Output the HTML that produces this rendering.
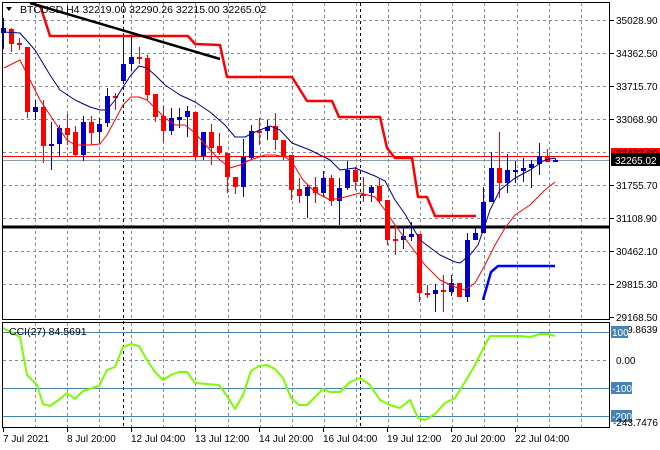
<!DOCTYPE html>
<html><head><meta charset="utf-8"><style>
html,body{margin:0;padding:0;background:#fff;width:660px;height:450px;overflow:hidden}
svg{display:block;font-family:"Liberation Sans",Tahoma,sans-serif}
</style></head><body>
<svg id="s" width="660" height="450" xmlns="http://www.w3.org/2000/svg">
<rect x="0" y="0" width="660" height="450" fill="#fff"/>
<g id="grid" stroke="#7f8a96" stroke-width="1" stroke-dasharray="3,3"></g>
<g id="ov"></g>
<g id="c"></g>
<g id="lines"></g>
<rect x="2.5" y="2.5" width="607" height="317" fill="none" stroke="#000"/>
<rect x="2.5" y="322.5" width="607" height="105" fill="none" stroke="#000"/>
<g id="ax" font-size="10.5" fill="#000"></g>
<text x="20" y="13" font-size="10.5" fill="#000">BTCUSD,H4  32219.00 32290.26 32215.00 32265.02</text>
<polygon points="6,7 12,7 9,11" fill="#000"/>
<text x="9" y="335" font-size="10.5" fill="#000">CCI(27) 84.5691</text>
</svg>
<script>
var NS="http://www.w3.org/2000/svg";
function el(p,t,a,txt){var e=document.createElementNS(NS,t);for(var k in a)e.setAttribute(k,a[k]);if(txt!==undefined)e.textContent=txt;document.getElementById(p).appendChild(e);return e;}
for(var x=35;x<=600;x+=32.1){var xx=Math.round(x)+0.5;el('grid','line',{x1:xx,y1:3,x2:xx,y2:319});el('grid','line',{x1:xx,y1:323,x2:xx,y2:427});}
[20,53,86,119,152,185,218,251,284].forEach(function(y){el('grid','line',{x1:3,y1:y+.5,x2:609,y2:y+.5});});
el('grid','line',{x1:3,y1:360.5,x2:609,y2:360.5});
[123,360].forEach(function(x){el('ov','line',{x1:x+.5,y1:3,x2:x+.5,y2:427,stroke:'#000','stroke-dasharray':'3,3'});});
[332,388,416].forEach(function(y){el('ov','line',{x1:3,y1:y+.5,x2:609,y2:y+.5,stroke:'#4682b4'});});
el('ov','line',{x1:3,y1:156.5,x2:609,y2:156.5,stroke:'#ff0000'});
el('ov','line',{x1:3,y1:160.5,x2:609,y2:160.5,stroke:'#8a99a6'});
el('ov','line',{x1:3,y1:227,x2:609,y2:227,stroke:'#000','stroke-width':3});
var C=[['b',28,33,18,49],['r',29,44,28,52],['r',43,45,38,50],['r',47,112,47,118],['b',107,112,100,120],['r',107,146,100,163],['b',144,146,122,170],['b',128,144,125,157],['r',128,135,114,145],['r',132,155,126,157],['b',122,155,116,161],['r',122,133,116,145],['b',124,132,118,143],['b',96,123,88,127],['r',96,98,93,110],['b',64,81,37,83],['b',57,64,37,71],['r',57,59,47,64],['r',58,95,55,100],['r',94,117,94,122],['r',116,131,106,142],['b',118,131,108,135],['b',117,120,108,128],['b',111,117,106,137],['r',112,156,112,160],['b',132,156,132,160],['r',132,148,124,165],['r',146,153,133,155],['r',153,177,153,193],['r',177,187,177,194],['b',157,187,139,197],['b',131,158,125,159],['r',131,133,118,145],['b',127,131,120,140],['r',126,140,113,150],['r',140,157,140,160],['r',155,190,155,200],['r',189,196,178,203],['b',187,196,184,218],['r',187,193,177,203],['b',178,193,171,196],['r',178,201,175,206],['b',188,201,178,225],['b',170,188,161,190],['r',170,182,167,190],['r',194,195,177,202],['b',187,193,185,202],['r',186,201,179,203],['r',200,240,200,245],['r',239,241,225,255],['b',236,240,226,249],['b',234,237,222,241],['r',234,293,234,302],['r',293,294,285,298],['b',290,294,284,312],['r',290,292,275,312],['b',283,292,275,296],['r',283,297,283,297],['b',240,297,233,302],['b',233,240,228,240],['b',202,233,187,233],['b',168,202,152,202],['r',168,183,132,198],['b',170,183,154,193],['b',170,171,161,183],['b',168,171,158,182],['b',164,168,160,188],['b',156,164,143,175],['r',156,162,149,162],['b',160,162,158,162]];
C.forEach(function(c,i){var x=3+8*i;var col=c[0]=='b'?'#0000c8':'#ff0000';
el('c','line',{x1:x+.5,y1:c[3],x2:x+.5,y2:c[4],stroke:col});
el('c','rect',{x:x-2,y:c[1],width:5,height:Math.max(2,c[2]-c[1]),fill:col});});
function pl(pts,col,w){el('lines','polyline',{points:pts.map(function(p){return p.join(',')}).join(' '),fill:'none',stroke:col,'stroke-width':w,'stroke-linejoin':'round'});}
pl([[4,32],[20,33],[35,50],[50,75],[60,90],[75,100],[90,107],[100,110],[107,110],[115,100],[123,87],[131,75],[139,66],[147,68],[155,75],[165,85],[180,95],[195,102],[210,112],[225,125],[235,137],[245,137],[255,132],[270,126],[280,130],[292,143],[310,150],[330,160],[340,170],[355,168],[365,172],[375,176],[385,181],[395,200],[405,214],[420,240],[440,255],[455,262],[460,263],[470,255],[478,245],[485,225],[490,210],[500,190],[515,178],[530,170],[545,160],[555,158]],'#000080',1);
pl([[4,68],[20,60],[30,80],[40,100],[50,115],[60,130],[67,140],[75,145],[90,145],[100,144],[107,135],[115,120],[123,105],[131,97],[139,97],[147,100],[155,108],[165,118],[175,125],[185,125],[195,133],[210,150],[220,160],[230,168],[240,165],[250,160],[265,155],[275,155],[285,157],[292,162],[303,180],[315,192],[330,200],[345,197],[360,193],[375,197],[385,210],[395,225],[410,245],[425,265],[440,280],[455,287],[465,290],[475,283],[485,265],[495,245],[505,228],[515,215],[530,205],[545,190],[555,182]],'#ff0000',1);
pl([[40,5],[50,36],[188,36],[195,44],[220,45],[227,77],[292,77],[307,101],[332,101],[339,117],[380,117],[387,148],[395,158],[412,158],[418,197],[427,197],[435,216],[476,216]],'#ff0000',2.5);
pl([[483,300],[491,272],[498,266],[555,266]],'#0000ff',2.5);
el('lines','line',{x1:30,y1:3,x2:220,y2:59,stroke:'#000','stroke-width':2.5});
pl([[3,328],[20,337],[27,375],[37,385],[43,404],[50,406],[60,399],[67,393],[75,399],[83,391],[99,386],[107,370],[115,367],[123,347],[131,344],[139,346],[147,360],[155,372],[163,380],[171,375],[179,372],[187,372],[195,383],[219,385],[227,396],[235,409],[243,395],[251,371],[259,366],[267,365],[275,369],[283,378],[291,398],[299,405],[307,405],[323,389],[330,392],[340,392],[350,382],[360,378],[370,385],[380,400],[390,405],[400,408],[410,400],[418,418],[425,420],[435,414],[445,403],[455,398],[465,382],[475,365],[485,345],[490,336],[500,336],[520,336],[530,337],[540,334],[548,334],[555,336]],'#7cfc00',2);
function tx(x,y,s,f){var e=el('ax','text',{x:0,y:0,transform:'translate('+x+','+y+') scale(0.95,1)'},s);if(f)e.setAttribute('fill',f);return e;}
[['35028.90',20],['34362.50',53],['33715.70',86],['33068.90',119],['31755.70',185],['31108.90',218],['30462.10',251],['29815.30',284],['29168.50',317]].forEach(function(a){el('ax','line',{x1:610,y1:a[1]+.5,x2:614,y2:a[1]+.5,stroke:'#000'});tx(616,a[1]+4,a[0]);});
el('ax','rect',{x:611,y:148,width:49,height:9,fill:'#ff0000'});
tx(616,157,'32432.60','#000');
el('ax','rect',{x:611,y:153,width:49,height:13,fill:'#000'});
tx(615,164,'32265.02','#fff');
tx(616,333,'129.8639');
el('ax','rect',{x:611,y:326,width:17,height:12,fill:'#4682b4'});
tx(612,336,'100','#fff');
tx(616,364,'0.00');
el('ax','rect',{x:611,y:382,width:21,height:12,fill:'#4682b4'});
tx(612,392,'-100','#fff');
el('ax','rect',{x:611,y:410,width:21,height:12,fill:'#4682b4'});
tx(612,420,'-200','#fff');
tx(613,426,'-243.7476');
[['7 Jul 2021',3],['8 Jul 20:00',67],['12 Jul 04:00',131],['13 Jul 12:00',195],['14 Jul 20:00',259],['16 Jul 04:00',323],['19 Jul 12:00',387],['20 Jul 20:00',451],['22 Jul 04:00',515]].forEach(function(a){el('ax','line',{x1:a[1]+.5,y1:428,x2:a[1]+.5,y2:432,stroke:'#000'});tx(a[1],442,a[0]);});
</script>
</body></html>
